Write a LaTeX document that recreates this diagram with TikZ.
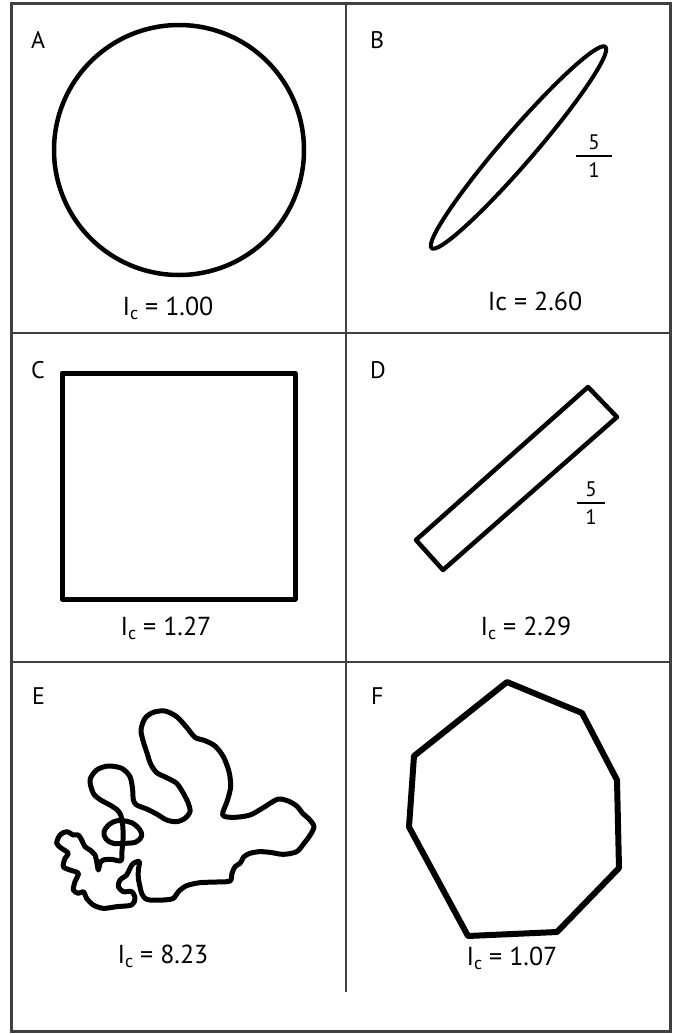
\documentclass[tikz,border=0pt]{standalone}
\usepackage{fontspec}
\setmainfont{PT Sans}
\newcommand{\Icsub}{I\raisebox{-0.38ex}{\fontsize{18}{18}\selectfont c}}
\begin{document}
\begin{tikzpicture}[x=1pt,y=-1pt,
  frame/.style={line width=3pt, draw=black!75},
  gridline/.style={line width=1.5pt, draw=black!75},
  outline/.style={line width=4.5pt, line join=round},
  panel/.style={font=\fontsize{24}{28}\selectfont, anchor=base west, inner sep=0pt},
  iclabel/.style={font=\fontsize{26}{30}\selectfont, anchor=base, inner sep=0pt},
  fracdigit/.style={font=\fontsize{21}{24}\selectfont, inner sep=0pt}
]
\useasboundingbox (0,0) rectangle (674,1034);
% frame and grid
\draw[frame] (11,3) rectangle (670,1031);
\draw[gridline] (346,3) -- (346,992);
\draw[gridline] (11,333) -- (670,333);
\draw[gridline] (11,662) -- (670,662);

% panel letters
\node[panel] (la) at (31,48) {A};
\node[panel] (lb) at (370,48) {B};
\node[panel] (lc) at (31,378) {C};
\node[panel] (ld) at (370,378) {D};
\node[panel] (le) at (32,704) {E};
\node[panel] (lf) at (371,704) {F};

% A circle
\draw[outline] (179,150) circle [radius=125pt];
\node[iclabel] (ica) at (168,315) {\Icsub{} = 1.00};

% B ellipse
\draw[outline, line width=4pt] (518.5,147.5) ellipse [x radius=133pt, y radius=16pt, rotate=49.2];
\node[fracdigit] (b5) at (594,142) {5};
\node[fracdigit] (b1) at (594,170) {1};
\coordinate (bbl) at (576,156);
\coordinate (bbr) at (612,156);
\draw[line width=1.7pt] (bbl) -- (bbr);
\node[iclabel] (icb) at (535,310) {Ic = 2.60};

% C square
\draw[outline, line width=5pt] (62,373) rectangle (295,599);
\node[iclabel] (icc) at (166,635) {\Icsub{} = 1.27};

% D rectangle
\draw[outline] (416,540) -- (443,570) -- (617,417) -- (588,387) -- cycle;
\node[fracdigit] (d5) at (591,489) {5};
\node[fracdigit] (d1) at (591,517) {1};
\coordinate (dbl) at (577,503);
\coordinate (dbr) at (605,503);
\draw[line width=1.7pt] (dbl) -- (dbr);
\node[iclabel] (icd) at (526,635) {\Icsub{} = 2.29};

% E blob
\begin{scope}[shift={(30,680)}, scale=1/3]
\draw[outline, line width=5pt] plot[smooth cycle, tension=0.5] coordinates {
(273,542) (276,512) (279,480) (279,450) (277,425) (272,405) (262,390) (240,375)
(212,360) (190,340) (180,300) (200,270) (235,258) (275,265) (300,290) (308,330)
(310,360) (320,375) (350,387) (380,402) (410,420) (440,425) (465,415) (480,395)
(475,370) (460,340) (440,310) (410,293) (380,278) (362,252) (352,222) (340,185)
(333,150) (345,115) (370,97) (405,93) (440,110) (470,142) (495,172) (525,182)
(555,198) (580,230) (597,275) (602,320) (592,362) (578,405) (612,412) (660,405)
(700,383) (742,358) (772,362) (800,378) (818,400) (838,418) (852,440) (840,466)
(822,490) (800,515) (760,523) (720,517) (688,515) (660,520) (642,530) (630,550)
(615,560) (606,580) (600,603) (560,606) (510,608) (470,617) (445,635) (430,655)
(400,660) (360,660) (345,655) (335,640) (330,620) (325,595) (325,570) (328,545)
(310,550) (300,565) (290,585) (270,600) (265,620) (280,635) (305,635) (315,655)
(305,675) (260,680) (220,685) (190,675) (170,655) (160,635) (145,640) (130,630)
(135,605) (145,580) (120,570) (100,560) (105,535) (115,520) (95,505) (80,490)
(90,465) (110,455) (130,465) (145,465) (155,480) (165,500) (180,510) (195,525)
(200,545) (205,570) (210,550) (220,540) (245,538)};
\draw[outline, line width=5pt] plot[smooth cycle, tension=0.6] coordinates {
(277,422) (305,428) (328,447) (335,468) (318,486) (285,490) (250,490) (228,477)
(222,455) (238,433) (258,423)};
\end{scope}
\node[iclabel] (ice) at (163,963) {\Icsub{} = 8.23};

% F polygon
\draw[outline, line width=6pt] (507,682) -- (582,713) -- (617,780) -- (619,868)
  -- (557,932) -- (468,936) -- (409,827) -- (414,756) -- cycle;
\node[iclabel] (icf) at (512,965) {\Icsub{} = 1.07};
\end{tikzpicture}
\end{document}
